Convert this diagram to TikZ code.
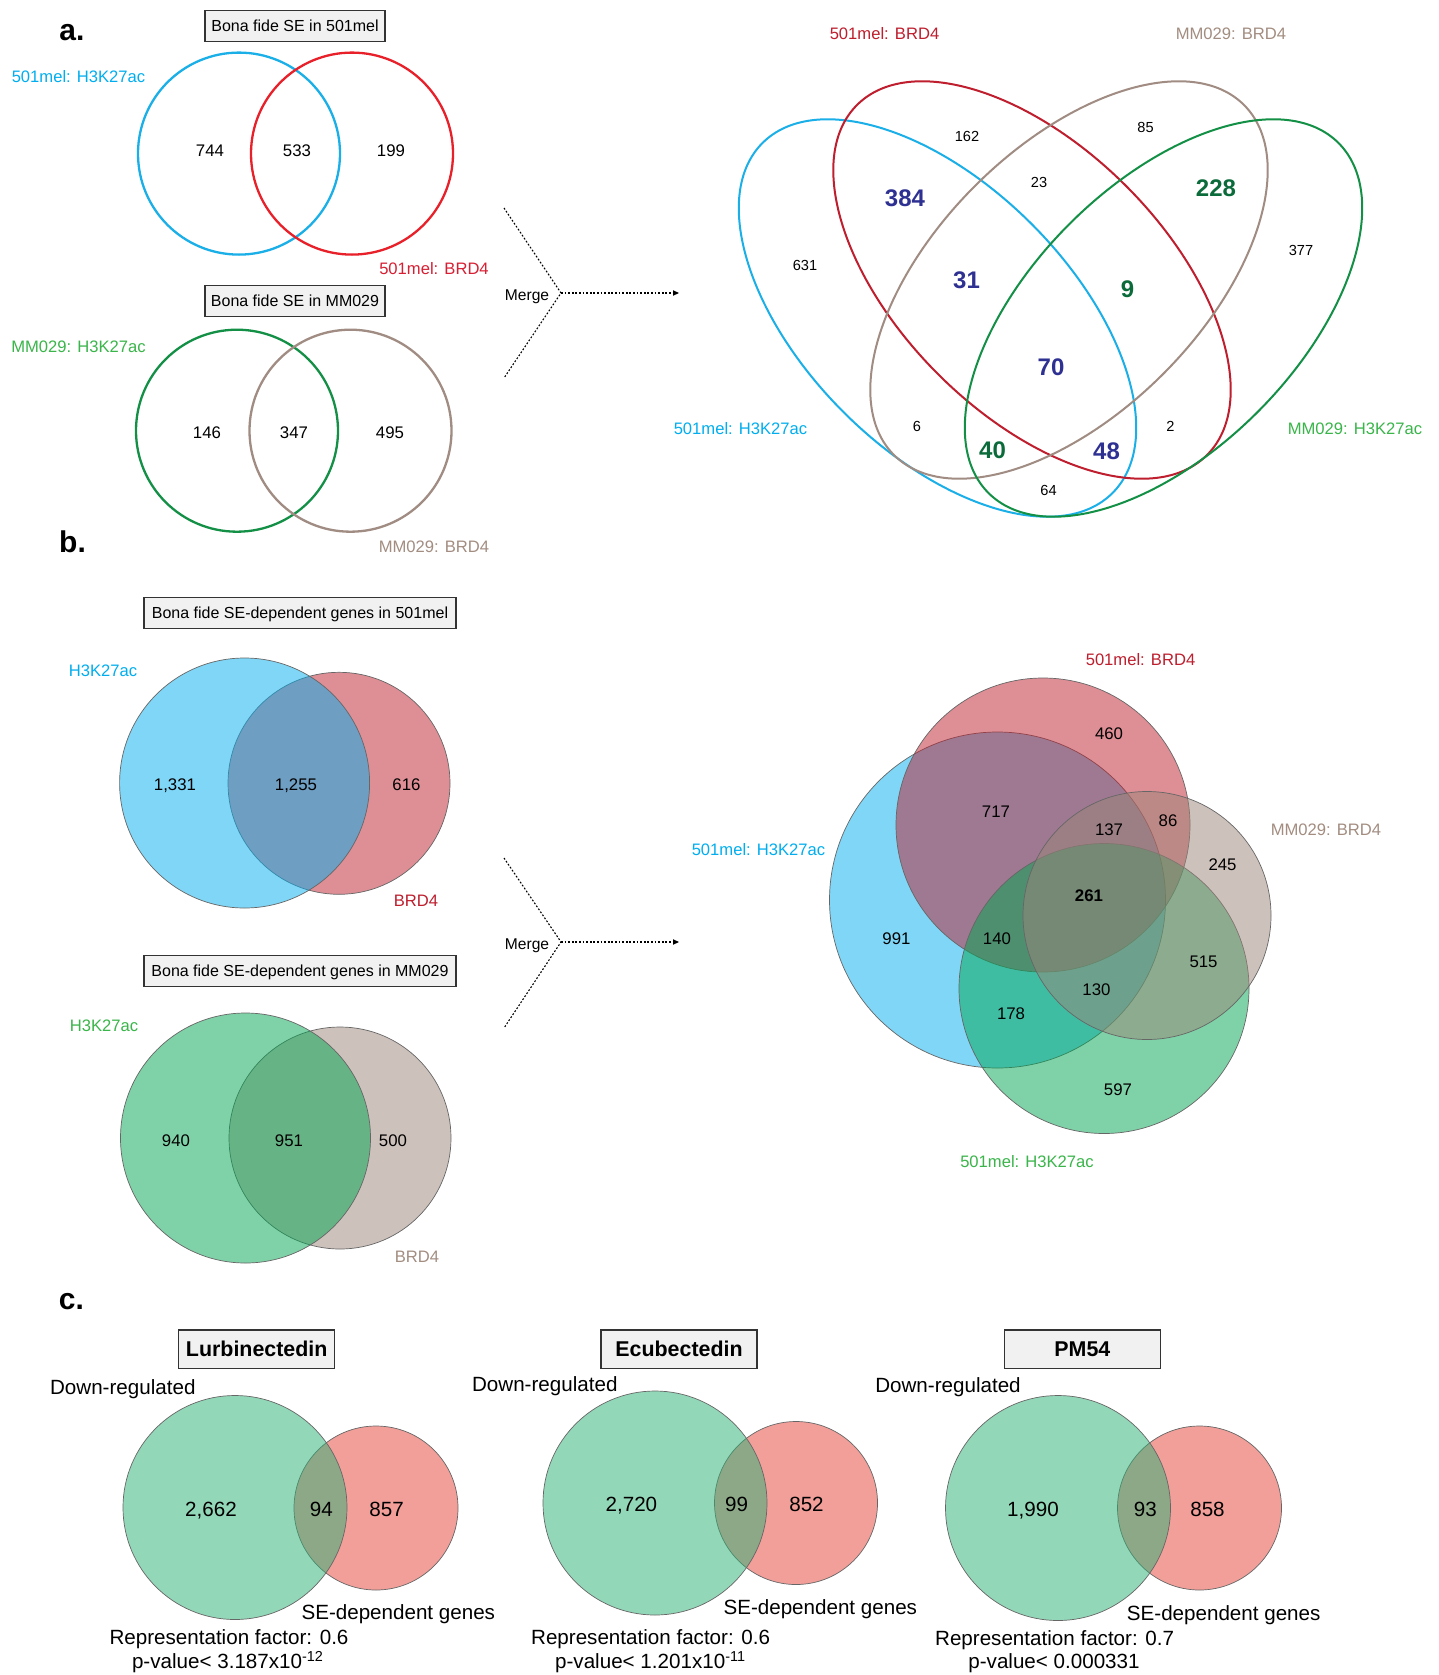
\documentclass[tikz,border=0pt]{standalone}
\usepackage{fontspec}
\setmainfont{Liberation Sans}
\usetikzlibrary{arrows.meta}
\definecolor{cyanL}{HTML}{00AEEF}
\definecolor{cyanS}{HTML}{1BAFE8}
\definecolor{redS}{HTML}{E8202A}
\definecolor{redL}{HTML}{D71F33}
\definecolor{crim}{HTML}{BE1E2D}
\definecolor{greenS}{HTML}{139046}
\definecolor{greenL}{HTML}{3AB54A}
\definecolor{brownS}{HTML}{A08C82}
\definecolor{brownL}{HTML}{A38D81}
\definecolor{navy}{HTML}{2E3192}
\definecolor{dgreen}{HTML}{0B6B3A}
\definecolor{fblue}{HTML}{00AEEF}
\definecolor{fred}{HTML}{BE1E2D}
\definecolor{fgreen}{HTML}{00A651}
\definecolor{fbrown}{HTML}{9C8579}
\definecolor{cgreen}{HTML}{29B175}
\definecolor{cred}{HTML}{E74137}
\definecolor{boxfill}{HTML}{F1F1F1}
\newcommand*{\myfs}[1]{\fontsize{#1}{#1}\selectfont}
\begin{document}
\begin{tikzpicture}[x=0.5pt,y=-0.5pt,
  every node/.style={inner sep=0pt,outer sep=0pt},
  panel/.style={font=\myfs{15}\bfseries, text height=11pt, text depth=0pt},
  lbl/.style={font=\myfs{8.3}, text height=6pt, text depth=0pt},
  num/.style={font=\myfs{8.4}, text height=6pt, text depth=0pt},
  sn/.style={font=\myfs{7.3}, text height=5.3pt, text depth=0pt},
  bn/.style={font=\myfs{12}\bfseries, text height=8.6pt, text depth=0pt},
  ct/.style={font=\myfs{10.3}, text height=7.4pt, text depth=0pt},
  sebox/.style={draw=black!80, line width=0.6pt, fill=boxfill, font=\myfs{8}, text height=5.8pt, text depth=0pt, minimum height=15.3pt},
  cbox/.style={draw=black!80, line width=0.6pt, fill=boxfill, font=\myfs{10.7}\bfseries, text height=7.7pt, text depth=0pt, minimum width=78pt, minimum height=19.1pt},
  ring/.style={line width=1.15pt},
  oval/.style={line width=1pt},
  blob/.style={draw=black!60, line width=0.35pt, fill opacity=0.5},
  mline/.style={line width=0.55pt, dash pattern=on 0.9pt off 0.9pt},
  marrow/.style={mline, -{Triangle[length=3pt,width=2.6pt]}}
]
\fill[white] (0,0) rectangle (1439,1675);
\useasboundingbox (0,0) rectangle (1439,1675);

% ---------------- panel a ----------------
\node[panel] (pa) at (72,30) {a.};
\node[sebox, minimum width=90pt] (boxA1) at (295,26) {Bona fide SE in 501mel};
\draw[ring, cyanS] (239,153.6) circle[radius=101];
\draw[ring, redS] (352,153.6) circle[radius=101];
\node[lbl, text=cyanL] (la1) at (78.5,77) {501mel: H3K27ac};
\node[lbl, text=redL] (la2) at (434,268) {501mel: BRD4};
\node[num] (na1) at (210,150) {744};
\node[num] (na2) at (297,150) {533};
\node[num] (na3) at (391,150) {199};

\node[sebox, minimum width=90pt] (boxA2) at (295,301) {Bona fide SE in MM029};
\draw[ring, greenS] (237,430.7) circle[radius=101];
\draw[ring, brownS] (350.5,430.7) circle[radius=101];
\node[lbl, text=greenL] (la3) at (78.5,346) {MM029: H3K27ac};
\node[lbl, text=brownL] (la4) at (434,546) {MM029: BRD4};
\node[num] (na4) at (207,432.5) {146};
\node[num] (na5) at (294,432.5) {347};
\node[num] (na6) at (390,432.5) {495};

% merge a
\coordinate (mAt) at (504,208);
\coordinate (mAv) at (561,293);
\coordinate (mAb) at (504,378);
\coordinate (mAe) at (679,293);
\draw[mline] (mAt) -- (mAv) -- (mAb);
\draw[marrow] (mAv) -- (mAe);
\node[font=\myfs{7.8}, text height=5.6pt, text depth=0pt] (mergeA) at (527,295) {Merge};

% four ellipses
\draw[oval, cyanS, rotate around={-45:(937.5,318)}] (937.5,318) ellipse[x radius=247.5, y radius=133];
\draw[oval, crim, rotate around={-45:(1032,280)}] (1032,280) ellipse[x radius=247.5, y radius=133];
\draw[oval, brownS, rotate around={45:(1069,280)}] (1069,280) ellipse[x radius=247.5, y radius=133];
\draw[oval, greenS, rotate around={45:(1163.5,318)}] (1163.5,318) ellipse[x radius=247.5, y radius=133];
\node[lbl, text=crim] (l4a) at (884.5,34) {501mel: BRD4};
\node[lbl, text=brownL] (l4b) at (1231,34) {MM029: BRD4};
\node[lbl, text=cyanL] (l4c) at (740.5,428.5) {501mel: H3K27ac};
\node[lbl, text=greenL] (l4d) at (1355,428.5) {MM029: H3K27ac};
\node[sn] (v162) at (967,136) {162};
\node[sn] (v85) at (1145.5,127.5) {85};
\node[sn] (v23) at (1039,182.5) {23};
\node[bn, text=navy] (v384) at (905,198) {384};
\node[bn, text=dgreen] (v228) at (1216,188) {228};
\node[sn] (v631) at (805,265) {631};
\node[sn] (v377) at (1301,250) {377};
\node[bn, text=navy] (v31) at (966.5,279.5) {31};
\node[bn, text=dgreen] (v9) at (1127.5,288.5) {9};
\node[bn, text=navy] (v70) at (1051,366.5) {70};
\node[sn] (v6) at (917,426) {6};
\node[sn] (v2) at (1170.5,426) {2};
\node[bn, text=dgreen] (v40) at (992.5,450) {40};
\node[bn, text=navy] (v48) at (1106.5,450.5) {48};
\node[sn] (v64) at (1048.5,490) {64};

% ---------------- panel b ----------------
\node[panel] (pb) at (72.5,541) {b.};
\node[sebox, minimum width=156pt] (boxB1) at (300,613) {Bona fide SE-dependent genes in 501mel};
\filldraw[blob, fill=fred] (339,783.3) circle[radius=111];
\filldraw[blob, fill=fblue] (244.6,783) circle[radius=125];
\node[lbl, text=cyanL] (lb1) at (103,670.5) {H3K27ac};
\node[lbl, text=crim] (lb2) at (416,900.5) {BRD4};
\node[num] (nb1) at (175,784.5) {1,331};
\node[num] (nb2) at (296,784.5) {1,255};
\node[num] (nb3) at (406.5,784.5) {616};

\node[sebox, minimum width=156pt] (boxB2) at (300,971) {Bona fide SE-dependent genes in MM029};
\filldraw[blob, fill=fbrown] (340,1138) circle[radius=111];
\filldraw[blob, fill=fgreen] (245.5,1138) circle[radius=125];
\node[lbl, text=greenL] (lb3) at (104,1025) {H3K27ac};
\node[lbl, text=brownL] (lb4) at (417,1256) {BRD4};
\node[num] (nb4) at (176,1140) {940};
\node[num] (nb5) at (289,1140) {951};
\node[num] (nb6) at (393,1140) {500};

% merge b
\coordinate (mBt) at (504,858);
\coordinate (mBv) at (561,942);
\coordinate (mBb) at (504,1028);
\coordinate (mBe) at (679,942);
\draw[mline] (mBt) -- (mBv) -- (mBb);
\draw[marrow] (mBv) -- (mBe);
\node[font=\myfs{7.8}, text height=5.6pt, text depth=0pt] (mergeB) at (527,944) {Merge};

% four circles
\filldraw[blob, fill=fblue] (997.5,900) circle[radius=168];
\filldraw[blob, fill=fred] (1043,825) circle[radius=147];
\filldraw[blob, fill=fgreen] (1104,988.5) circle[radius=145];
\filldraw[blob, fill=fbrown] (1147,915.5) circle[radius=124];
\node[lbl, text=crim] (l5a) at (1140.5,659) {501mel: BRD4};
\node[lbl, text=brownL] (l5b) at (1326,829) {MM029: BRD4};
\node[lbl, text=cyanL] (l5c) at (758.5,849) {501mel: H3K27ac};
\node[lbl, text=greenL] (l5d) at (1027,1161.5) {501mel: H3K27ac};
\node[num] (w460) at (1109,733) {460};
\node[num] (w717) at (996,811.5) {717};
\node[num] (w137) at (1109,829) {137};
\node[num] (w86) at (1168,820) {86};
\node[num] (w245) at (1222.5,864) {245};
\node[num, font=\myfs{8.4}\bfseries] (w261) at (1089,895) {261};
\node[num] (w991) at (896.5,938) {991};
\node[num] (w140) at (997,938) {140};
\node[num] (w515) at (1203.5,961) {515};
\node[num] (w130) at (1096.5,989) {130};
\node[num] (w178) at (1011,1013) {178};
\node[num] (w597) at (1118,1089) {597};

% ---------------- panel c ----------------
\node[panel] (pc) at (71.5,1298) {c.};
% Lurbinectedin
\node[cbox] (boxC1) at (256.7,1349) {Lurbinectedin};
\filldraw[blob, fill=cred] (376,1508) circle[radius=82];
\filldraw[blob, fill=cgreen] (235,1507.5) circle[radius=112];
\node[ct] (c1d) at (122.8,1387) {Down-regulated};
\node[ct] (c1n1) at (211,1508.7) {2,662};
\node[ct] (c1n2) at (321.4,1508.7) {94};
\node[ct] (c1n3) at (386.6,1508.7) {857};
\node[ct] (c1s) at (398.3,1612.5) {SE-dependent genes};
\node[ct] (c1r) at (229,1637.5) {Representation factor: 0.6};
\node[ct] (c1p) at (228,1661) {p-value< 3.187x10\textsuperscript{-12}};
% Ecubectedin
\node[cbox] (boxC2) at (679,1349) {Ecubectedin};
\filldraw[blob, fill=cred] (796,1503) circle[radius=81.5];
\filldraw[blob, fill=cgreen] (655,1503) circle[radius=112];
\node[ct] (c2d) at (544.8,1384.5) {Down-regulated};
\node[ct] (c2n1) at (631.4,1504) {2,720};
\node[ct] (c2n2) at (736.5,1504) {99};
\node[ct] (c2n3) at (806.5,1504) {852};
\node[ct] (c2s) at (820.3,1607.5) {SE-dependent genes};
\node[ct] (c2r) at (650.6,1636.7) {Representation factor: 0.6};
\node[ct] (c2p) at (650.6,1661) {p-value< 1.201x10\textsuperscript{-11}};
% PM54
\node[cbox] (boxC3) at (1082.4,1349) {PM54};
\filldraw[blob, fill=cred] (1199.5,1508) circle[radius=82];
\filldraw[blob, fill=cgreen] (1058,1508) circle[radius=112.5];
\node[ct] (c3d) at (948,1385) {Down-regulated};
\node[ct] (c3n1) at (1033,1509.3) {1,990};
\node[ct] (c3n2) at (1145.3,1509.3) {93};
\node[ct] (c3n3) at (1207.5,1509.3) {858};
\node[ct] (c3s) at (1223.7,1612.7) {SE-dependent genes};
\node[ct] (c3r) at (1054.6,1637.7) {Representation factor: 0.7};
\node[ct] (c3p) at (1054,1661) {p-value< 0.000331};
\end{tikzpicture}
\end{document}
